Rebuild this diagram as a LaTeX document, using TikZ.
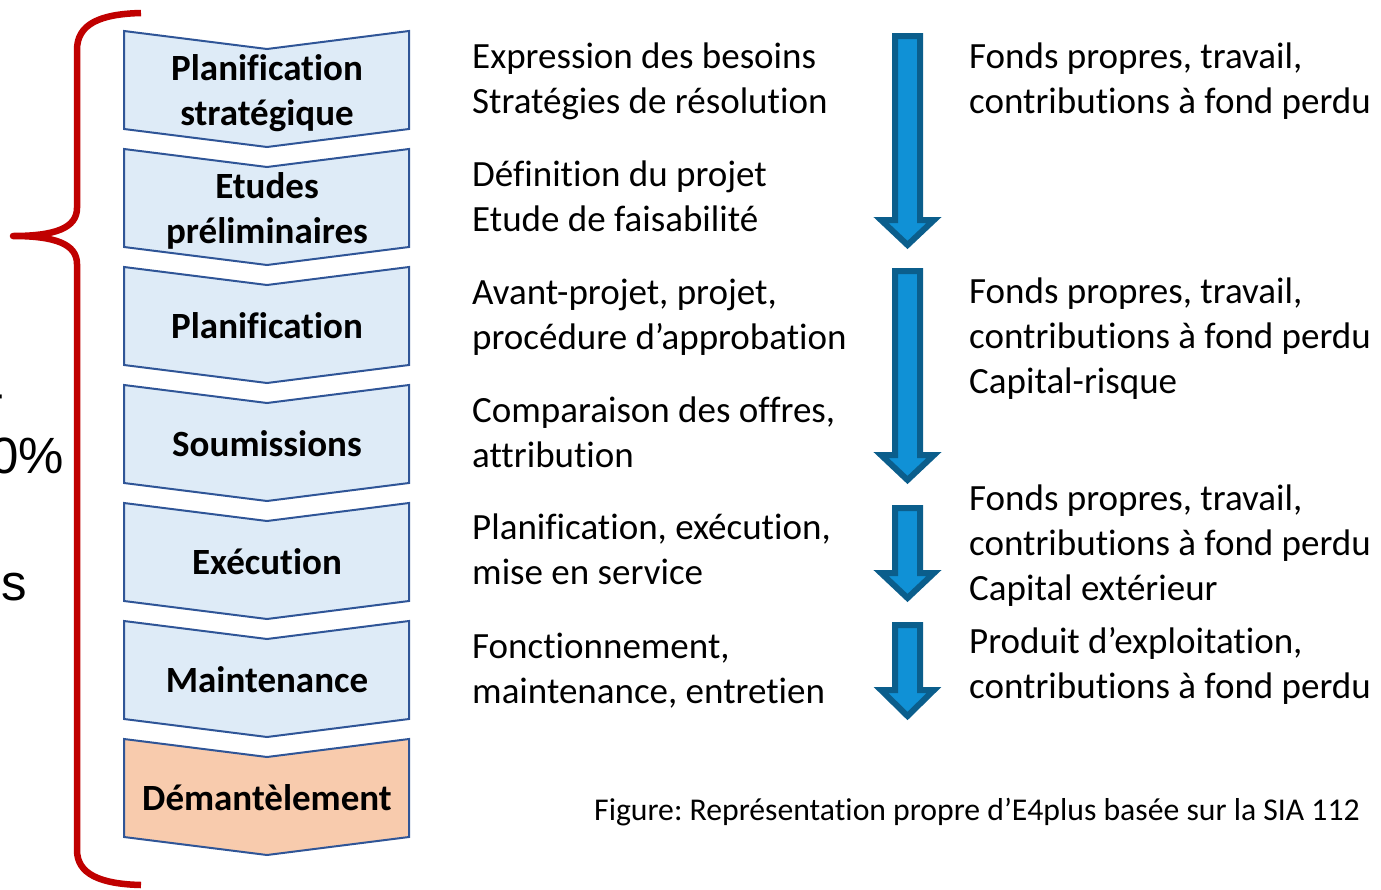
\documentclass[tikz,border=0pt]{standalone}
\usepackage{fontspec}
\setmainfont{Carlito}[Ligatures={TeX,NoCommon}]
\newfontfamily\arialfont{Liberation Sans}
\frenchspacing

\definecolor{braceRed}{RGB}{192,0,0}
\definecolor{stageBlue}{RGB}{222,235,247}
\definecolor{stageEdge}{RGB}{47,85,151}
\definecolor{stageOrange}{RGB}{248,203,173}
\definecolor{arrowFill}{RGB}{16,145,214}
\definecolor{arrowEdge}{RGB}{11,94,140}

\tikzset{
  stage/.style={draw=stageEdge, line width=2pt, fill=stageBlue, line join=miter},
  stagelabel/.style={font=\fontsize{37}{45}\selectfont\bfseries, align=center, inner sep=0pt},
  bodytext/.style={font=\fontsize{37}{45}\selectfont, align=left, anchor=west, inner sep=0pt},
  cuttext/.style={font=\arialfont\fontsize{51}{61}\selectfont, anchor=base east, inner sep=0pt},
  flow/.style={draw=arrowEdge, line width=6pt, fill=arrowFill, line join=miter},
}

\begin{document}
\begin{tikzpicture}[x=1pt, y=-1pt]
\useasboundingbox (0,0) rectangle (1381,889);
% Brace
\draw[braceRed, line width=6.5pt, line join=round] (141,13) .. controls (100,14) and (77,24) .. (77,50) -- (77,208)
  .. controls (77,228) and (55,236) .. (13,236) .. controls (55,236) and (77,244) .. (77,264)
  -- (77,850) .. controls (77,874) and (100,884) .. (141,885);
% Cut-off text on the left
\node[cuttext] (cutA) at (5,410) {-};
\node[cuttext] (cutB) at (64,473) {0\%};
\node[cuttext] (cutC) at (27,600) {es};
% Stages
\draw[stage] (124,31) -- (267,49) -- (409,31) -- (409,129) -- (267,147) -- (124,129) -- cycle;
\draw[stage] (124,149) -- (267,167) -- (409,149) -- (409,247) -- (267,265) -- (124,247) -- cycle;
\draw[stage] (124,267) -- (267,285) -- (409,267) -- (409,365) -- (267,383) -- (124,365) -- cycle;
\draw[stage] (124,385) -- (267,403) -- (409,385) -- (409,483) -- (267,501) -- (124,483) -- cycle;
\draw[stage] (124,503) -- (267,521) -- (409,503) -- (409,601) -- (267,619) -- (124,601) -- cycle;
\draw[stage] (124,621) -- (267,639) -- (409,621) -- (409,719) -- (267,737) -- (124,719) -- cycle;
\draw[stage, fill=stageOrange] (124,739) -- (267,757) -- (409,739) -- (409,837) -- (267,855) -- (124,837) -- cycle;
\node[stagelabel] (strat) at (267,93) {Planification\\stratégique};
\node[stagelabel] (etudes) at (267,211) {Etudes\\préliminaires};
\node[stagelabel] (plan) at (267,326) {Planification};
\node[stagelabel] (soum) at (267,444) {Soumissions};
\node[stagelabel] (exec) at (267,562) {Exécution};
\node[stagelabel] (maint) at (267,680) {Maintenance};
\node[stagelabel] (demant) at (267,798) {Démantèlement};
% Tasks
\node[bodytext] (taskA) at (472,81) {Expression des besoins\\Stratégies de résolution};
\node[bodytext] (taskB) at (472,196) {Définition du projet\\Etude de faisabilité};
\node[bodytext] (taskC) at (472,317) {Avant-projet, projet,\\procédure d’approbation};
\node[bodytext] (taskD) at (472,432) {Comparaison des offres,\\attribution};
\node[bodytext] (taskE) at (472,549) {Planification, exécution,\\mise en service};
\node[bodytext] (taskF) at (472,671) {Fonctionnement,\\maintenance, entretien};
% Arrows
\draw[flow] (895,36) -- (920,36) -- (920,220) -- (934,220) -- (907.5,245) -- (881,220) -- (895,220) -- cycle;
\draw[flow] (895,271) -- (920,271) -- (920,455) -- (934,455) -- (907.5,480) -- (881,455) -- (895,455) -- cycle;
\draw[flow] (895,508) -- (920,508) -- (920,573) -- (934,573) -- (907.5,598) -- (881,573) -- (895,573) -- cycle;
\draw[flow] (895,625) -- (920,625) -- (920,690) -- (934,690) -- (907.5,716) -- (881,690) -- (895,690) -- cycle;
% Funding
\node[bodytext] (fundA) at (969,81) {Fonds propres, travail,\\contributions à fond perdu};
\node[bodytext] (fundB) at (969,339) {Fonds propres, travail,\\contributions à fond perdu\\Capital-risque};
\node[bodytext] (fundC) at (969,546) {Fonds propres, travail,\\contributions à fond perdu\\Capital extérieur};
\node[bodytext] (fundD) at (969,666) {Produit d’exploitation,\\contributions à fond perdu};
% Caption
\node[anchor=west, inner sep=0pt, font=\fontsize{31.7}{38}\selectfont] (source) at (594,812) {Figure: Représentation propre d’E4plus basée sur la SIA 112};
\end{tikzpicture}
\end{document}
